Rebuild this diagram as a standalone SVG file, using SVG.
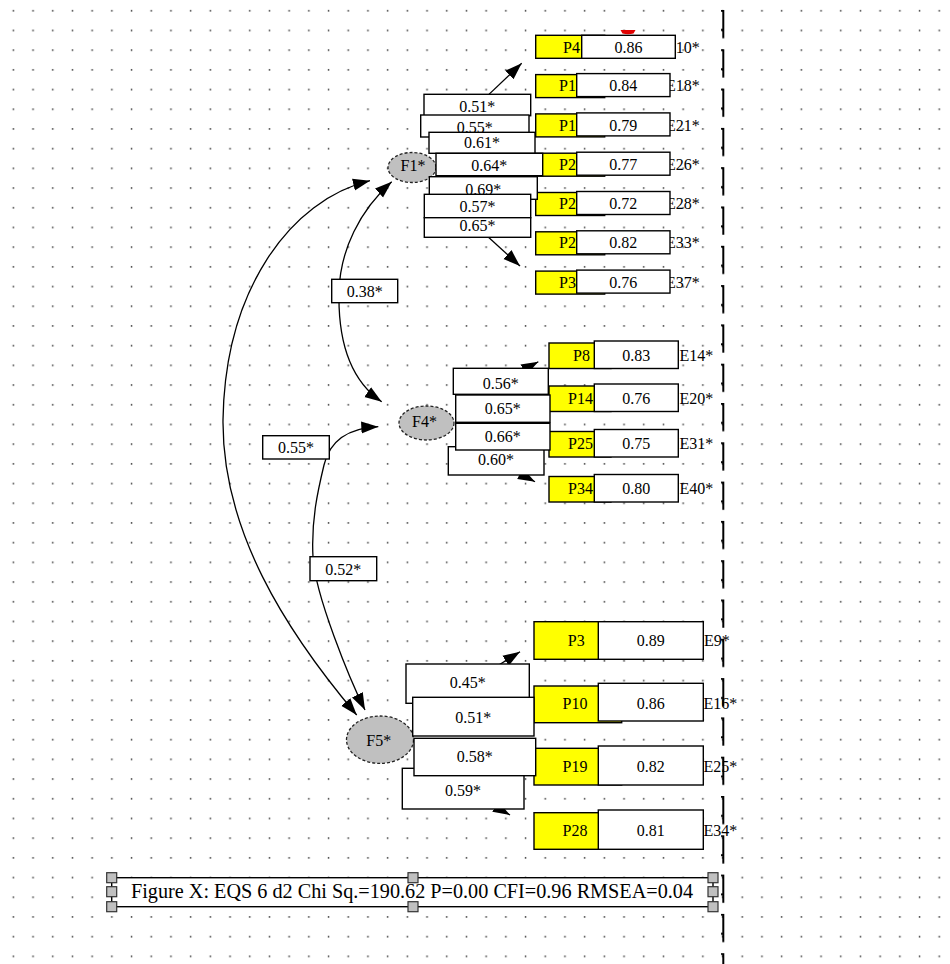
<svg xmlns="http://www.w3.org/2000/svg" width="950" height="964" viewBox="0 0 950 964">
<style>
.box{fill:#fff;stroke:#000;stroke-width:1.4}
.ind{fill:#ffff00;stroke:#000;stroke-width:1.4}
.lat{fill:#c0c0c0;stroke:#222;stroke-width:1.3;stroke-dasharray:3 2}
text{font-family:"Liberation Serif","Times New Roman",serif;font-size:16px;fill:#000}
text.cap{font-size:20px}
.c{text-anchor:middle}
.e{text-anchor:end}
.ln{fill:none;stroke:#000;stroke-width:1.3}
.h{fill:#c0c0c0;stroke:#333;stroke-width:1.2}
</style>
<defs>
<pattern id="dots" patternUnits="userSpaceOnUse" x="0" y="0" width="19.7" height="19.7">
<rect x="12.6" y="10" width="1.5" height="1.5" fill="#333"/>
</pattern>
<pattern id="pb" patternUnits="userSpaceOnUse" x="718" y="10" width="10" height="39.3">
<path d="M5.3,0 V28.3 M3,0.7 H5.3 M3,20 H5.3" fill="none" stroke="#000" stroke-width="2"/>
</pattern>
<marker id="ah" markerUnits="userSpaceOnUse" viewBox="0 0 18 14" markerWidth="18" markerHeight="14" refX="17" refY="6.5" orient="auto-start-reverse">
<path d="M0,0.5 L17,6.5 L0,12.5 Z" fill="#000"/>
</marker>
</defs>
<rect width="950" height="964" fill="#fff"/>
<rect width="950" height="964" fill="url(#dots)"/>

<g id="connectors">
<path class="ln" d="M480,102.9 L521.7,63.3" marker-end="url(#ah)"/>
<path class="ln" d="M480,229.5 L520,266" marker-end="url(#ah)"/>
<path class="ln" d="M490,388.2 L538.3,361.7" marker-end="url(#ah)"/>
<path class="ln" d="M490,457.4 L535,481.7" marker-end="url(#ah)"/>
<path class="ln" d="M470,683.1 L520,651.7" marker-end="url(#ah)"/>
<path class="ln" d="M470,791.8 L510,815" marker-end="url(#ah)"/>
<path class="ln" d="M391.7,181.7 C360,210 340,250 339,292 C338,340 350,380 381.7,401.7" marker-start="url(#ah)" marker-end="url(#ah)"/>
<path class="ln" d="M370,180.7 C290,200 225,290 223,420 C222,530 285,630 356.7,715" marker-start="url(#ah)" marker-end="url(#ah)"/>
<path class="ln" d="M378.3,426.7 C350,428 330,440 324,465 C318,490 311,520 313,557 C315,595 350,680 365,710" marker-start="url(#ah)" marker-end="url(#ah)"/>
</g>

<g id="F1"><ellipse class="lat" cx="412" cy="167.5" rx="24" ry="15"/><text class="c" x="413" y="171">F1*</text></g>
<g id="F4"><ellipse class="lat" cx="426.5" cy="423" rx="27.5" ry="17"/><text class="c" x="424.5" y="426.7">F4*</text></g>
<g id="F5"><ellipse class="lat" cx="380" cy="739.7" rx="33.5" ry="23.7"/><text class="c" x="378.8" y="746">F5*</text></g>

<g id="P4"><rect class="ind" x="535.7" y="35.3" width="69" height="23"/><text class="e" x="580" y="52.5">P4</text><text x="666" y="52.5">E10*</text><rect class="box" x="581.7" y="35.3" width="93.6" height="23"/><text class="c" x="628.5" y="52.5">0.86</text></g>
<path d="M620.5,30 L635.5,30 L633.5,33.5 Q628,35 622.5,33.5 Z" fill="#e00000"/>
<g id="P1a"><rect class="ind" x="535.7" y="74.6" width="69" height="23"/><text class="e" x="576" y="91.2">P1</text><text x="666" y="91.2">E18*</text><rect class="box" x="576.7" y="73.6" width="93.3" height="23"/><text class="c" x="623.3" y="91.2">0.84</text></g>
<g id="P1b"><rect class="ind" x="535.7" y="113.9" width="69" height="23"/><text class="e" x="576" y="130.5">P1</text><text x="666" y="130.5">E21*</text><rect class="box" x="576.7" y="112.9" width="93.3" height="23"/><text class="c" x="623.3" y="130.5">0.79</text></g>
<g id="P2a"><rect class="ind" x="535.7" y="153.2" width="69" height="23"/><text class="e" x="576" y="169.8">P2</text><text x="666" y="169.8">E26*</text><rect class="box" x="576.7" y="152.2" width="93.3" height="23"/><text class="c" x="623.3" y="169.8">0.77</text></g>
<g id="P2b"><rect class="ind" x="535.7" y="192.5" width="69" height="23"/><text class="e" x="576" y="209">P2</text><text x="666" y="209">E28*</text><rect class="box" x="576.7" y="191.5" width="93.3" height="23"/><text class="c" x="623.3" y="209">0.72</text></g>
<g id="P2c"><rect class="ind" x="535.7" y="231.8" width="69" height="23"/><text class="e" x="576" y="248.3">P2</text><text x="666" y="248.3">E33*</text><rect class="box" x="576.7" y="230.8" width="93.3" height="23"/><text class="c" x="623.3" y="248.3">0.82</text></g>
<g id="P3a"><rect class="ind" x="535.7" y="271.1" width="69" height="23"/><text class="e" x="576" y="287.6">P3</text><text x="666" y="287.6">E37*</text><rect class="box" x="576.7" y="270.1" width="93.3" height="23"/><text class="c" x="623.3" y="287.6">0.76</text></g>

<g id="P8"><rect class="ind" x="549" y="343" width="62" height="25.5"/><text class="e" x="590" y="360.5">P8</text><rect class="box" x="594.3" y="341" width="84" height="27.5"/><text class="c" x="636.3" y="360.5">0.83</text><text x="679.5" y="360.5">E14*</text></g>
<g id="P14"><rect class="ind" x="549" y="386" width="62" height="25.5"/><text class="e" x="593" y="403.5">P14</text><rect class="box" x="594.3" y="384" width="84" height="27.5"/><text class="c" x="636.3" y="403.5">0.76</text><text x="679.5" y="403.5">E20*</text></g>
<g id="P25"><rect class="ind" x="549" y="431.5" width="62" height="25.5"/><text class="e" x="593" y="449">P25</text><rect class="box" x="594.3" y="429.5" width="84" height="27.5"/><text class="c" x="636.3" y="449">0.75</text><text x="679.5" y="449">E31*</text></g>
<g id="P34"><rect class="ind" x="549" y="476.5" width="62" height="25.5"/><text class="e" x="593" y="494">P34</text><rect class="box" x="594.3" y="474.5" width="84" height="27.5"/><text class="c" x="636.3" y="494">0.80</text><text x="679.5" y="494">E40*</text></g>

<g id="P3"><rect class="ind" x="534" y="621.7" width="87.7" height="37.6"/><text class="c" x="576.3" y="646.3">P3</text><rect class="box" x="598.3" y="621.7" width="105" height="37.6"/><text class="c" x="650.8" y="646.3">0.89</text><text x="704" y="646.3">E9*</text></g>
<g id="P10"><rect class="ind" x="534" y="686" width="87.7" height="36.7"/><text class="c" x="575" y="708.8">P10</text><rect class="box" x="598.3" y="683.3" width="105" height="37.7"/><text class="c" x="650.8" y="708.8">0.86</text><text x="703.5" y="708.8">E16*</text></g>
<g id="P19"><rect class="ind" x="534" y="748.3" width="87.7" height="36.7"/><text class="c" x="575" y="771.8">P19</text><rect class="box" x="598.3" y="746" width="105" height="39"/><text class="c" x="650.8" y="771.8">0.82</text><text x="703.5" y="771.8">E25*</text></g>
<g id="P28"><rect class="ind" x="534" y="812.7" width="87.7" height="36.6"/><text class="c" x="575" y="835.8">P28</text><rect class="box" x="598.3" y="810" width="105" height="39.3"/><text class="c" x="650.8" y="835.8">0.81</text><text x="703.5" y="835.8">E34*</text></g>

<g id="connector-labels">
<rect class="box" x="424" y="94.3" width="106.7" height="21.4"/><text class="c" x="477.3" y="112.3">0.51*</text>
<rect class="box" x="420.7" y="115" width="108.3" height="22"/><text class="c" x="474.8" y="133">0.55*</text>
<rect class="box" x="429" y="132.3" width="106" height="21"/><text class="c" x="482" y="148.3">0.61*</text>
<rect class="box" x="436" y="153.3" width="106.7" height="22.4"/><text class="c" x="489.3" y="170.5">0.64*</text>
<rect class="box" x="429.3" y="176.7" width="108" height="22.6"/><text class="c" x="483.3" y="195">0.69*</text>
<rect class="box" x="424.3" y="194.3" width="106.4" height="23.4"/><text class="c" x="477.5" y="212.3">0.57*</text>
<rect class="box" x="424.3" y="217.7" width="106.4" height="19.6"/><text class="c" x="477.5" y="231">0.65*</text>

<rect class="box" x="448.3" y="446.7" width="95.7" height="28.3"/><text class="c" x="496" y="465">0.60*</text>
<rect class="box" x="453.3" y="368.3" width="95" height="26"/><text class="c" x="500.8" y="389.3">0.56*</text>
<rect class="box" x="455.7" y="395" width="94.3" height="27.3"/><text class="c" x="502.8" y="414">0.65*</text>
<rect class="box" x="455.7" y="423.3" width="94.3" height="26.7"/><text class="c" x="502.8" y="442.3">0.66*</text>

<rect class="box" x="406" y="664" width="123.3" height="39.3"/><text class="c" x="467.7" y="688.3">0.45*</text>
<rect class="box" x="412.7" y="697.3" width="121.3" height="38.7"/><text class="c" x="473.3" y="722.5">0.51*</text>
<rect class="box" x="402.3" y="768.3" width="121.7" height="40.7"/><text class="c" x="463" y="795.5">0.59*</text>
<rect class="box" x="414" y="738.3" width="121.7" height="37.4"/><text class="c" x="474.8" y="762.3">0.58*</text>

<rect class="box" x="331.7" y="279.3" width="66" height="23.4"/><text class="c" x="364.7" y="297.3">0.38*</text>
<rect class="box" x="262.7" y="435.7" width="66.6" height="23.3"/><text class="c" x="296" y="453.3">0.55*</text>
<rect class="box" x="310" y="556.7" width="66.7" height="24"/><text class="c" x="343.3" y="575">0.52*</text>
</g>

<g id="caption">
<rect class="box" x="111.7" y="877.7" width="601.3" height="29"/>
<text class="cap" x="131" y="898.3" textLength="562" lengthAdjust="spacingAndGlyphs">Figure X: EQS 6 d2 Chi Sq.=190.62 P=0.00 CFI=0.96 RMSEA=0.04</text>
<rect class="h" x="106.7" y="872.7" width="10" height="10"/>
<rect class="h" x="408" y="872.7" width="10" height="10"/>
<rect class="h" x="708" y="872.7" width="10" height="10"/>
<rect class="h" x="106.7" y="886.7" width="10" height="10"/>
<rect class="h" x="708" y="886.7" width="10" height="10"/>
<rect class="h" x="106.7" y="901.7" width="10" height="10"/>
<rect class="h" x="408" y="901.7" width="10" height="10"/>
<rect class="h" x="708" y="901.7" width="10" height="10"/>
</g>

<rect x="718" y="0" width="10" height="964" fill="url(#pb)"/>
</svg>
